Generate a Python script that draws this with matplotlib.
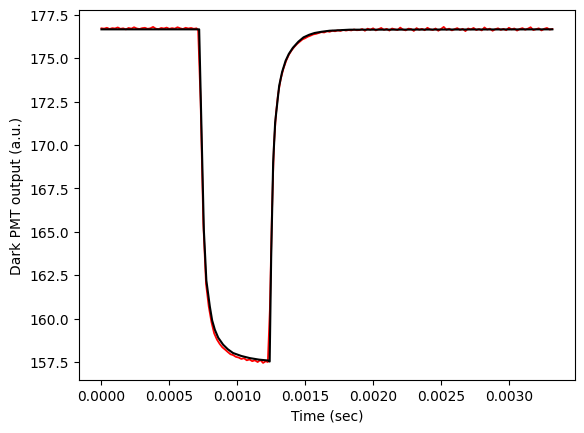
import numpy as np
import matplotlib
matplotlib.use('Agg')
import matplotlib.pyplot as plt

# fitted model curve (time in sec, output in a.u.)
fit_t = [0.0, 0.0007195, 0.000754, 0.0007724, 0.000798, 0.000815, 0.000835,
         0.00086, 0.000896, 0.00093, 0.000969, 0.00103, 0.001091, 0.00116,
         0.001226, 0.0012386, 0.0012496, 0.0012643, 0.001279, 0.0013084,
         0.00133, 0.001356, 0.00138, 0.0014097, 0.00145, 0.001488, 0.00153,
         0.001569, 0.00162, 0.001679, 0.001826, 0.00332]
fit_y = [176.66, 176.66, 165.1, 162.2, 160.7, 159.9, 159.36,
         158.9, 158.5, 158.24, 158.02, 157.85, 157.73, 157.64,
         157.59, 157.53, 163.5, 169.0, 171.3, 173.4,
         174.2, 174.85, 175.25, 175.6, 175.95, 176.2, 176.35,
         176.45, 176.52, 176.58, 176.64, 176.66]

# measured signal: baseline before the pulse (sampled every 20 us from 0)
pre_y = [176.72, 176.70, 176.75, 176.68, 176.73, 176.71, 176.77, 176.69, 176.72,
         176.66, 176.74, 176.70, 176.78, 176.71, 176.68, 176.73, 176.75, 176.69,
         176.72, 176.80, 176.70, 176.67, 176.74, 176.71, 176.76, 176.69, 176.73,
         176.70, 176.78, 176.72, 176.68, 176.75, 176.71, 176.74, 176.69, 176.72]

# measured signal: fall, bottom and recovery
mid_t = [0.000712, 0.00073, 0.00075, 0.00077, 0.00079, 0.00081, 0.00083, 0.00085,
         0.00087, 0.00089, 0.00091, 0.00093, 0.00095, 0.00097, 0.00099, 0.00101,
         0.00103, 0.00105, 0.00107, 0.00109, 0.00111, 0.00113, 0.00115, 0.00117,
         0.00119, 0.00121, 0.001225, 0.00124, 0.001255, 0.00127, 0.001285, 0.0013,
         0.00132, 0.00134, 0.00136, 0.00138, 0.0014, 0.00142, 0.00144, 0.00146,
         0.00148, 0.0015, 0.00152, 0.00154, 0.00156, 0.00158, 0.0016, 0.00162,
         0.00164, 0.00166, 0.00168, 0.0017, 0.00172, 0.00174, 0.00176, 0.00178,
         0.0018, 0.00182, 0.00184, 0.00186, 0.00188]
mid_y = [176.60, 172.5, 165.5, 162.0, 160.7, 159.8, 159.15, 158.8,
         158.55, 158.35, 158.22, 158.08, 157.95, 157.9, 157.8, 157.76,
         157.68, 157.72, 157.6, 157.65, 157.55, 157.6, 157.5, 157.62,
         157.45, 157.55, 157.5, 160.5, 166.0, 170.0, 171.8, 172.9,
         173.8, 174.4, 174.85, 175.2, 175.45, 175.65, 175.82, 175.95,
         176.08, 176.15, 176.24, 176.3, 176.37, 176.4, 176.45, 176.5,
         176.48, 176.55, 176.52, 176.58, 176.55, 176.6, 176.57, 176.63,
         176.59, 176.62, 176.6, 176.65, 176.61]

# measured signal: baseline after recovery (every 20 us from 1.9 ms)
post_y = [176.62, 176.68, 176.58, 176.70, 176.64, 176.72, 176.60, 176.67, 176.74, 176.63, 176.69, 176.59,
          176.71, 176.66, 176.62, 176.76, 176.65, 176.60, 176.70, 176.68, 176.57, 176.73, 176.64, 176.69,
          176.61, 176.75, 176.66, 176.62, 176.71, 176.58, 176.68, 176.80, 176.64, 176.70, 176.60, 176.67,
          176.73, 176.63, 176.69, 176.56, 176.71, 176.66, 176.74, 176.62, 176.68, 176.60, 176.77, 176.65,
          176.70, 176.58, 176.67, 176.72, 176.63, 176.69, 176.61, 176.75, 176.66, 176.71, 176.59, 176.68,
          176.73, 176.64, 176.70, 176.78, 176.62, 176.67, 176.72, 176.60, 176.69, 176.74, 176.65, 176.68]

dt = 0.00002
pre_t = np.arange(len(pre_y)) * dt
post_t = 0.0019 + np.arange(len(post_y)) * dt

t_data = np.concatenate([pre_t, mid_t, post_t])
y_data = np.concatenate([pre_y, mid_y, post_y])

fig, ax = plt.subplots(figsize=(6.4, 4.8))
ax.plot(t_data, y_data, color='red', lw=1.3)
ax.plot(fit_t, fit_y, color='black', lw=1.5)
ax.set_xlabel('Time (sec)')
ax.set_ylabel('Dark PMT output (a.u.)')
fig.savefig('out.png', dpi=100, bbox_inches='tight')
